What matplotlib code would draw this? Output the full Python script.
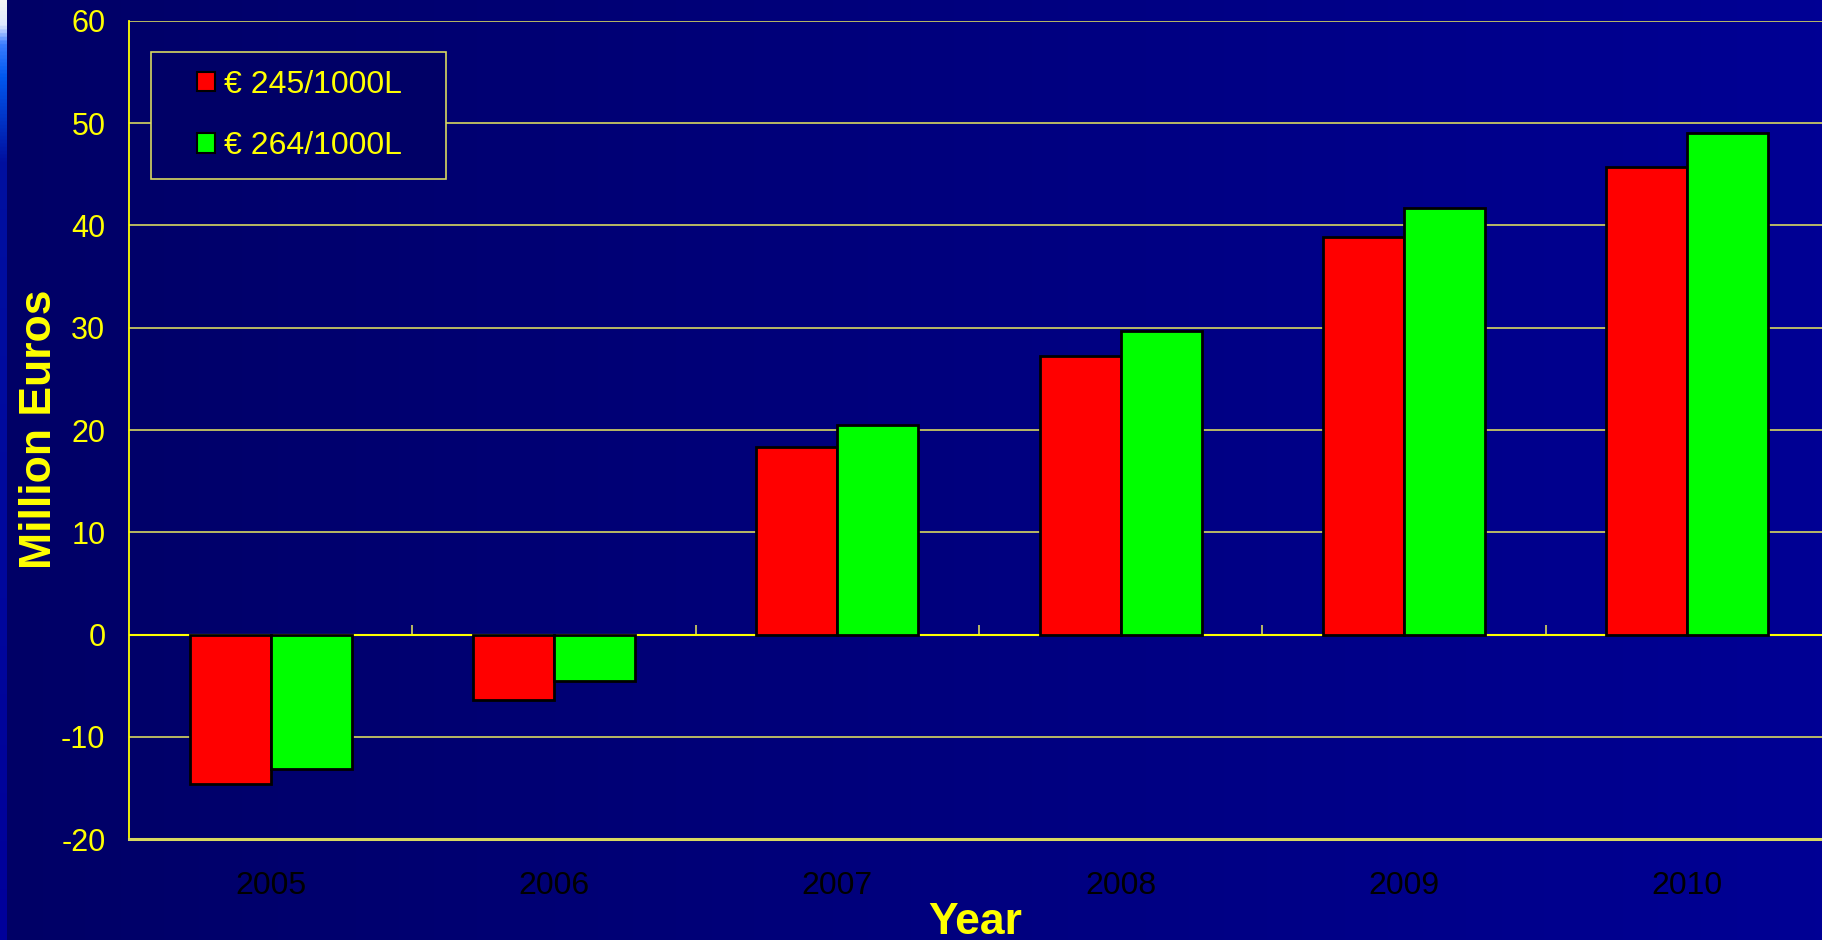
import numpy as np
import matplotlib
matplotlib.use("Agg")
import matplotlib.pyplot as plt
from matplotlib.colors import LinearSegmentedColormap
from matplotlib.container import BarContainer
from matplotlib.legend_handler import HandlerPatch

years = ["2005", "2006", "2007", "2008", "2009", "2010"]
low_price = [-14.6, -6.4, 18.3, 27.2, 38.9, 45.7]    # € 245/1000L
high_price = [-13.2, -4.5, 20.45, 29.7, 41.7, 49.0]  # € 264/1000L
series_labels = ["€ 245/1000L", "€ 264/1000L"]
y_ticks = [-20, -10, 0, 10, 20, 30, 40, 50, 60]

YELLOW = "#ffff00"
GRID = "#d8d860"
plt.rcParams["font.family"] = ["Liberation Sans", "DejaVu Sans"]

fig = plt.figure(figsize=(18.22, 9.40), dpi=100)

# slide background: horizontal dark-blue gradient
bg = fig.add_axes([0, 0, 1, 1], zorder=-10)
bg_cmap = LinearSegmentedColormap.from_list("bg", ["#000066", "#000094"])
bg.imshow(np.linspace(0, 1, 256)[None, :], cmap=bg_cmap, aspect="auto", extent=[0, 1, 0, 1])
# thin bright strip on the left edge
strip_cmap = LinearSegmentedColormap.from_list(
    "strip", [(0, "#f4f4f4"), (0.025, "#e0e8ff"), (0.045, "#3a7cff"),
              (0.08, "#0058f0"), (0.17, "#0010a0"), (1, "#00009a")])
bg.imshow(np.linspace(0, 1, 512)[:, None], cmap=strip_cmap, aspect="auto",
          extent=[0, 7 / 1822, 0, 1], origin="upper")
bg.set_xlim(0, 1); bg.set_ylim(0, 1)
bg.axis("off")

ax = fig.add_axes([129 / 1822, 1 - 839 / 940, 1700 / 1822, 818 / 940])
ax.set_facecolor("none")

x = np.arange(len(years))
w = 0.286
ax.bar(x - w / 2, low_price, w, color="#ff0000", edgecolor="black", lw=2,
       label=series_labels[0], zorder=3)
ax.bar(x + w / 2, high_price, w, color="#00ff00", edgecolor="black", lw=2,
       label=series_labels[1], zorder=3)

ax.set_xlim(-0.5, len(years) - 0.5)
ax.set_ylim(-20, 60)
ax.set_yticks(y_ticks)
ax.set_yticklabels([str(t) for t in y_ticks])
ax.set_xticks(x)
ax.set_xticklabels(years)
ax.tick_params(axis="y", length=0, pad=17, labelsize=22, labelcolor=YELLOW)
ax.tick_params(axis="x", length=0, pad=23, labelsize=23, labelcolor="black")
ax.grid(axis="y", color=GRID, lw=1.2, zorder=1)
ax.set_axisbelow(True)

for side in ("top", "right"):
    ax.spines[side].set_visible(False)
ax.spines["left"].set_color(YELLOW)
ax.spines["left"].set_linewidth(1.3)
ax.spines["bottom"].set_color(GRID)
ax.spines["bottom"].set_linewidth(2.2)

# category separator ticks sitting on the zero line
zero_axis = ax.secondary_xaxis(20 / 80)
zero_axis.set_xticks(x[:-1] + 0.5)
zero_axis.set_xticklabels([])
zero_axis.tick_params(axis="x", direction="in", length=7, width=1.2, color=GRID)
zero_axis.spines["bottom"].set_visible(False)
zero_axis.spines["top"].set_visible(False)
ax.axhline(0, color=YELLOW, lw=1.5, zorder=2)

ax.set_ylabel("Million Euros", fontsize=32, fontweight="bold", color=YELLOW, va="center")
ax.yaxis.set_label_coords(-0.0524, 0.501)
ax.set_xlabel("Year", fontsize=32, fontweight="bold", color=YELLOW, va="center")
ax.xaxis.set_label_coords(0.498, -0.102)


def first_bar_style(legend_handle, orig_handle):
    legend_handle.update_from(orig_handle.patches[0])


leg_h = 124 / 818
leg = ax.legend(loc="upper left", bbox_to_anchor=(0.0129, 0.962 - leg_h, 295 / 1700, leg_h),
                mode="expand", borderaxespad=0,
                frameon=True, fancybox=False, edgecolor=GRID, facecolor="#000066",
                framealpha=1, fontsize=23, labelcolor=YELLOW, handlelength=1.45,
                handleheight=0.57, handletextpad=0.3, labelspacing=0.99,
                borderpad=0.55,
                handler_map={BarContainer: HandlerPatch(xpad=0.885, update_func=first_bar_style)})
leg.get_frame().set_linewidth(1.2)
for h in leg.legend_handles:
    h.set_linewidth(1.5)

fig.savefig("out.png", dpi=100)
